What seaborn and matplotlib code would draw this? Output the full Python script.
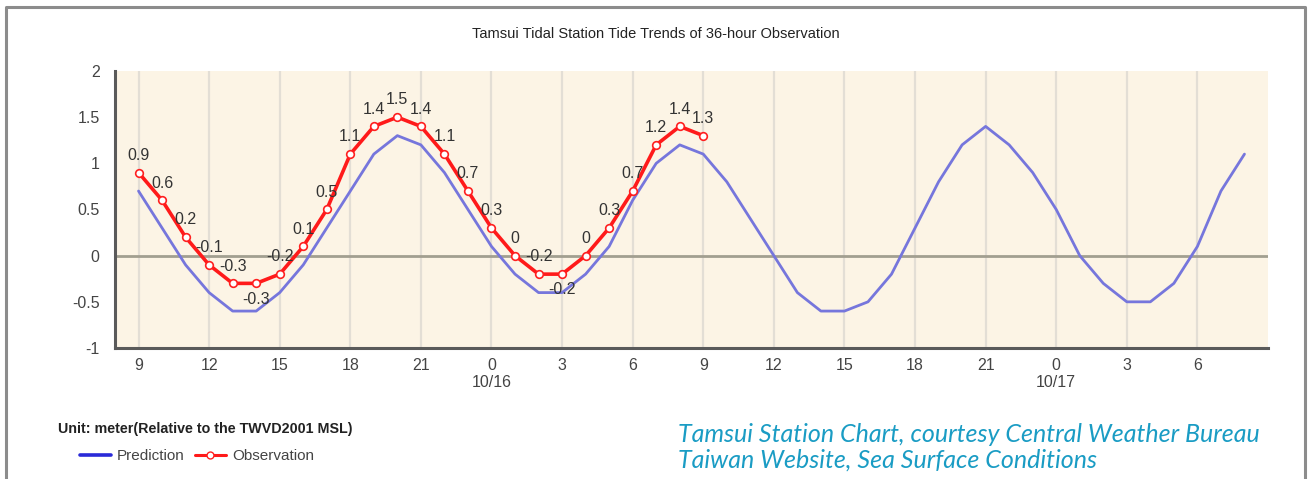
import seaborn as sns
import matplotlib.pyplot as plt
import pandas as pd
import numpy as np
from matplotlib.lines import Line2D

# hourly tide levels (m), starting 10/15 09:00
prediction = [0.7, 0.3, -0.1, -0.4, -0.6, -0.6, -0.4, -0.1, 0.3, 0.7, 1.1, 1.3, 1.2, 0.9, 0.5,
              0.1, -0.2, -0.4, -0.4, -0.2, 0.1, 0.6, 1.0, 1.2, 1.1, 0.8, 0.4, 0.0, -0.4, -0.6,
              -0.6, -0.5, -0.2, 0.3, 0.8, 1.2, 1.4, 1.2, 0.9,
              0.5, 0.0, -0.3, -0.5, -0.5, -0.3, 0.1, 0.7, 1.1]
observation = [0.9, 0.6, 0.2, -0.1, -0.3, -0.3, -0.2, 0.1, 0.5, 1.1, 1.4, 1.5, 1.4, 1.1, 0.7,
               0.3, 0.0, -0.2, -0.2, 0.0, 0.3, 0.7, 1.2, 1.4, 1.3]
obs_labels = ["0.9", "0.6", "0.2", "-0.1", "-0.3", "-0.3", "-0.2", "0.1", "0.5", "1.1", "1.4", "1.5",
              "1.4", "1.1", "0.7", "0.3", "0", "-0.2", "-0.2", "0", "0.3", "0.7", "1.2", "1.4", "1.3"]
labels_below = [5, 18]

x_ticks = [0, 3, 6, 9, 12, 15, 18, 21, 24, 27, 30, 33, 36, 39, 42, 45]
x_ticklabels = ["9", "12", "15", "18", "21", "0\n10/16", "3", "6", "9", "12", "15", "18", "21",
                "0\n10/17", "3", "6"]
y_ticks = [-1, -0.5, 0, 0.5, 1, 1.5, 2]
y_ticklabels = ["-1", "-0.5", "0", "0.5", "1", "1.5", "2"]

df_pred = pd.DataFrame({"hour": np.arange(len(prediction)), "tide": prediction})
df_obs = pd.DataFrame({"hour": np.arange(len(observation)), "tide": observation})

sns.set_style("white")
plt.rcParams['font.family'] = ['Liberation Sans', 'DejaVu Sans']

fig = plt.figure(figsize=(13.09, 4.79), dpi=100)
ax = fig.add_axes([115 / 1309, 1 - 348 / 479, (1268 - 115) / 1309, (348 - 71) / 479])
ax.set_facecolor('#fcf4e5')

for xt in x_ticks:
    ax.axvline(xt, color='#e3ded5', lw=1.6, zorder=0)
ax.axhline(0, color='#a29f90', lw=2, zorder=1)

sns.lineplot(data=df_pred, x="hour", y="tide", ax=ax, color='#7676dc', lw=2, zorder=2)
sns.lineplot(data=df_obs, x="hour", y="tide", ax=ax, color='#ff1a1a', lw=2.6, zorder=3,
             marker='o', markersize=5.5, markerfacecolor='white', markeredgecolor='#ff2020',
             markeredgewidth=1.2)

for i, (v, lab) in enumerate(zip(observation, obs_labels)):
    if i in labels_below:
        ax.annotate(lab, (i, v), xytext=(0, -6), textcoords='offset points', ha='center',
                    va='top', fontsize=11.5, color='#333333')
    else:
        ax.annotate(lab, (i, v), xytext=(0, 7), textcoords='offset points', ha='center',
                    va='bottom', fontsize=11.5, color='#333333')

ax.set_xlim(-1, 48)
ax.set_ylim(-1, 2)
ax.set_xticks(x_ticks)
ax.set_xticklabels(x_ticklabels, fontsize=11.5, color='#444444', linespacing=1.15)
ax.set_yticks(y_ticks)
ax.set_yticklabels(y_ticklabels, fontsize=11.5, color='#444444')
ax.tick_params(axis='both', direction='out', color='#555555', width=1.5)
ax.tick_params(axis='y', length=8, pad=3)
ax.tick_params(axis='x', length=4, pad=3)
ax.set_xlabel("")
ax.set_ylabel("")
for s in ['top', 'right']:
    ax.spines[s].set_visible(False)
for s in ['left', 'bottom']:
    ax.spines[s].set_color('#5a5a5a')
    ax.spines[s].set_linewidth(2.2)

fig.text(656 / 1309, 1 - 34 / 479, "Tamsui Tidal Station Tide Trends of 36-hour Observation",
         ha='center', va='center', fontsize=10.5, color='#222222')

fig.text(58 / 1309, 1 - 429 / 479, "Unit: meter(Relative to the TWVD2001 MSL)",
         ha='left', va='center', fontsize=10.3, weight='bold', color='#222222')

handles = [Line2D([], [], color='#2a2ad8', lw=2.6),
           Line2D([], [], color='#ff1a1a', lw=2.2, marker='o', markersize=5,
                  markerfacecolor='white', markeredgecolor='#ff2020')]
leg = fig.legend(handles, ["Prediction", "Observation"], loc='center left',
                 bbox_to_anchor=(80 / 1309, 1 - 456 / 479), ncol=2, frameon=False,
                 fontsize=11, handlelength=2.0, handletextpad=0.4,
                 columnspacing=0.7, borderpad=0, borderaxespad=0)
for t in leg.get_texts():
    t.set_color('#444444')

fig.text(678 / 1309, 1 - 434 / 479, "Tamsui Station Chart, courtesy Central Weather Bureau",
         ha='left', va='center', fontsize=18, style='italic', color='#1a9cc4',
         family=['Lato', 'DejaVu Sans'])
fig.text(678 / 1309, 1 - 460 / 479, "Taiwan Website, Sea Surface Conditions",
         ha='left', va='center', fontsize=18, style='italic', color='#1a9cc4',
         family=['Lato', 'DejaVu Sans'])

# outer frame (open at the bottom)
fig.add_artist(Line2D([6 / 1309, 6 / 1309, 1305 / 1309, 1305 / 1309], [0, 1 - 7 / 479, 1 - 7 / 479, 0],
                      color='#8c8c8c', lw=2.2, transform=fig.transFigure))

fig.savefig("out.png", dpi=100)
